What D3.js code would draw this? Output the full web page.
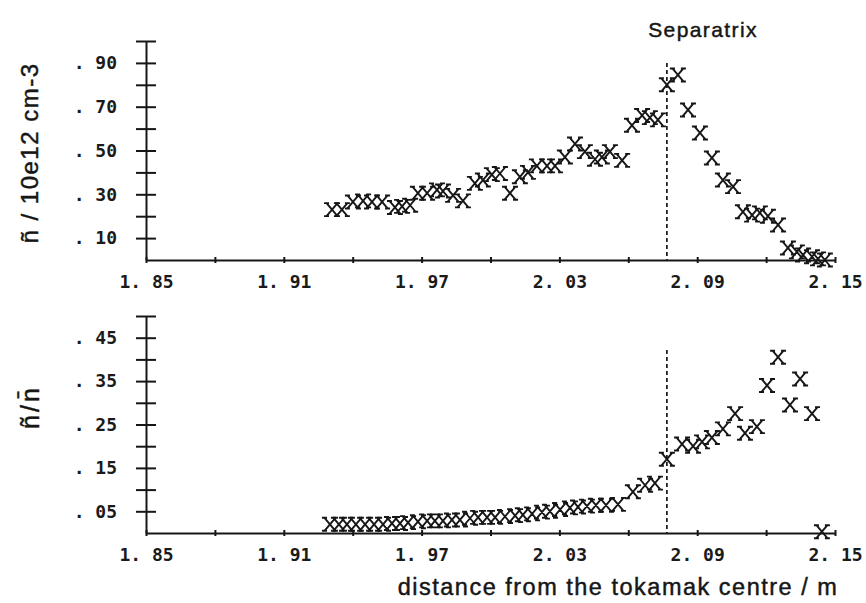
<!DOCTYPE html>
<html>
<head>
<meta charset="utf-8">
<script src="https://cdn.jsdelivr.net/npm/d3@7"></script>
<style>
  html, body { margin: 0; padding: 0; background: #fff; }
  svg { display: block; }
  .tick text { font-family: "DejaVu Sans Mono", monospace; font-size: 18px; font-weight: bold; fill: #1a1a1a; }
  .title { font-family: "Liberation Sans", Arial, sans-serif; fill: #161616; stroke: #161616; stroke-width: 0.45px; }
</style>
</head>
<body>
<svg id="chart" width="866" height="603"></svg>
<script>
// Major radius positions (m) and fluctuation level, upper panel
const rTop = [1.9310, 1.9353, 1.9401, 1.9445, 1.9484, 1.9528, 1.9584, 1.9615, 1.9650, 1.9684,
  1.9724, 1.9767, 1.9793, 1.9837, 1.9880, 1.9932, 1.9967, 2.0006, 2.0041, 2.0085,
  2.0128, 2.0163, 2.0202, 2.0246, 2.0281, 2.0324, 2.0368, 2.0411, 2.0455, 2.0485,
  2.0520, 2.0573, 2.0616, 2.0660, 2.0694, 2.0729, 2.0768, 2.0816, 2.0860, 2.0912,
  2.0964, 2.1012, 2.1056, 2.1099, 2.1139, 2.1173, 2.1208, 2.1252, 2.1295, 2.1334,
  2.1361, 2.1400, 2.1426, 2.1456];
const nTilde = [0.23, 0.23, 0.265, 0.27, 0.265, 0.265, 0.24, 0.245, 0.25, 0.305,
  0.305, 0.32, 0.315, 0.295, 0.27, 0.35, 0.365, 0.39, 0.395, 0.305,
  0.38, 0.40, 0.43, 0.43, 0.43, 0.47, 0.53, 0.495, 0.46, 0.47,
  0.495, 0.455, 0.615, 0.66, 0.65, 0.64, 0.80, 0.845, 0.685, 0.58,
  0.466, 0.365, 0.335, 0.22, 0.205, 0.215, 0.20, 0.16, 0.055, 0.037,
  0.023, 0.015, 0.005, 0.0];

// Relative fluctuation level, lower panel
const rBottom = [1.9301, 1.9340, 1.9375, 1.9414, 1.9454, 1.9493, 1.9532, 1.9571, 1.9606, 1.9641,
  1.9684, 1.9724, 1.9758, 1.9793, 1.9832, 1.9867, 1.9911, 1.9946, 1.9985, 2.0020,
  2.0063, 2.0107, 2.0141, 2.0181, 2.0224, 2.0259, 2.0303, 2.0346, 2.0381, 2.0420,
  2.0459, 2.0503, 2.0555, 2.0620, 2.0673, 2.0716, 2.0768, 2.0834, 2.0882, 2.0921,
  2.0964, 2.1012, 2.1065, 2.1108, 2.1160, 2.1204, 2.1252, 2.1304, 2.1348, 2.1400,
  2.1443];
const ratio = [0.020, 0.020, 0.020, 0.020, 0.020, 0.020, 0.020, 0.022, 0.022, 0.024,
  0.026, 0.028, 0.028, 0.028, 0.030, 0.030, 0.034, 0.036, 0.036, 0.036,
  0.038, 0.040, 0.042, 0.044, 0.048, 0.050, 0.054, 0.058, 0.060, 0.062,
  0.064, 0.064, 0.066, 0.095, 0.110, 0.115, 0.170, 0.205, 0.200, 0.210,
  0.220, 0.240, 0.275, 0.230, 0.245, 0.340, 0.405, 0.295, 0.355, 0.275,
  0.003];

// Axis ticks
const xTicks = [1.85, 1.88, 1.91, 1.94, 1.97, 2.00, 2.03, 2.06, 2.09, 2.12, 2.15];
const xLabels = [1.85, 1.91, 1.97, 2.03, 2.09, 2.15];
const topTicks = [0.1, 0.2, 0.3, 0.4, 0.5, 0.6, 0.7, 0.8, 0.9, 1.0];
const topLabels = [0.1, 0.3, 0.5, 0.7, 0.9];
const bottomTicks = [0.05, 0.10, 0.15, 0.20, 0.25, 0.30, 0.35, 0.40, 0.45, 0.50];
const bottomLabels = [0.05, 0.15, 0.25, 0.35, 0.45];
const separatrixR = 2.0768;

const svg = d3.select("#chart");
const ink = "#161616";

const x = d3.scaleLinear().domain([1.85, 2.15]).range([146, 835]);
const yTop = d3.scaleLinear().domain([0, 1.0]).range([260, 41]);
const yBot = d3.scaleLinear().domain([0, 0.5]).range([533, 316]);

const has = (list, v) => list.some(d => Math.abs(d - v) < 1e-6);
const fmtX = v => has(xLabels, v) ? d3.format(".2f")(v).replace(".", ". ") : "";
const fmtY = labels => v => has(labels, v) ? d3.format(".2f")(v).replace("0.", ". ") : "";

// Serif "x" plotting symbol
const cross = "M-5.5,-6.5L5.5,6.5M5.5,-6.5L-5.5,6.5M-8,-6.5H-3M3,-6.5H8M-8,6.5H-3M3,6.5H8";

function panel(y, ticks, labels, rs, vals, sepTop) {
  const g = svg.append("g");

  const xa = g.append("g")
    .attr("transform", `translate(0,${y.range()[0]})`)
    .call(d3.axisBottom(x).tickValues(xTicks).tickFormat(fmtX)
      .tickSizeInner(3).tickSizeOuter(0).tickPadding(12));
  xa.selectAll(".tick line").attr("y1", -3).attr("y2", 3);

  const ya = g.append("g")
    .attr("transform", `translate(${x.range()[0]},0)`)
    .call(d3.axisLeft(y).tickValues(ticks).tickFormat(fmtY(labels))
      .tickSizeInner(10).tickSizeOuter(0).tickPadding(19));
  ya.selectAll(".tick line").attr("x1", -10).attr("x2", 10);

  g.selectAll(".domain, .tick line").attr("stroke", ink).attr("stroke-width", 2);
  g.selectAll(".tick text").attr("fill", ink);

  // separatrix position
  g.append("line")
    .attr("x1", x(separatrixR)).attr("x2", x(separatrixR))
    .attr("y1", sepTop).attr("y2", y.range()[0])
    .attr("stroke", ink).attr("stroke-width", 1.7)
    .attr("stroke-dasharray", "4,3");

  g.selectAll("path.pt")
    .data(rs.map((r, i) => [r, vals[i]]))
    .join("path")
    .attr("class", "pt")
    .attr("d", cross)
    .attr("transform", d => `translate(${x(d[0])},${y(d[1])})`)
    .attr("fill", "none")
    .attr("stroke", ink)
    .attr("stroke-width", 1.9);
}

panel(yTop, topTicks, topLabels, rTop, nTilde, yTop(0.9));
panel(yBot, bottomTicks, bottomLabels, rBottom, ratio, 350);

// Labels
svg.append("text").attr("class", "title")
  .attr("x", 703).attr("y", 37).attr("text-anchor", "middle")
  .style("font-size", "21px").style("letter-spacing", "1.4px")
  .text("Separatrix");

svg.append("text").attr("class", "title")
  .attr("x", 618).attr("y", 595).attr("text-anchor", "middle")
  .style("font-size", "23.5px").style("letter-spacing", "1.5px")
  .text("distance from the tokamak centre / m");

svg.append("text").attr("class", "title")
  .attr("transform", "translate(38,153) rotate(-90)")
  .attr("text-anchor", "middle")
  .style("font-size", "24px").style("letter-spacing", "1.5px")
  .text("ñ / 10e12 cm-3");

svg.append("text").attr("class", "title")
  .attr("transform", "translate(39,407) rotate(-90)")
  .attr("text-anchor", "middle")
  .style("font-size", "25px").style("letter-spacing", "3px")
  .text("ñ/n\u0304");
</script>
</body>
</html>
